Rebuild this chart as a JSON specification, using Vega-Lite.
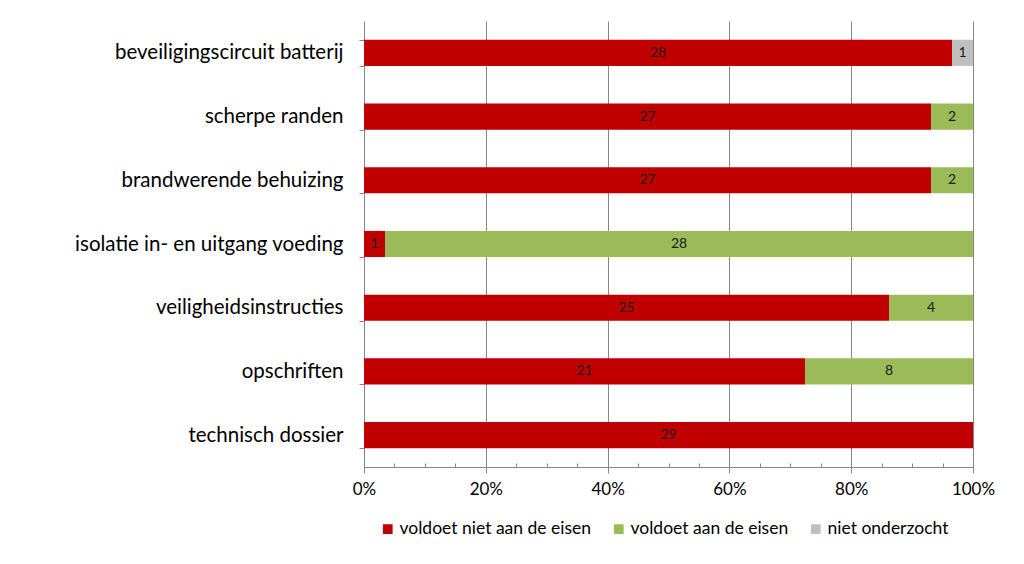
{
  "$schema": "https://vega.github.io/schema/vega-lite/v6.json",
  "width": 609,
  "height": 446,
  "autosize": {"type": "none"},
  "padding": {"left": 364, "top": 21, "right": 51, "bottom": 97},
  "background": "white",
  "config": {"font": "Lato", "view": {"stroke": null}},
  "data": {"values": [
    {"item": "beveiligingscircuit batterij", "status": "voldoet niet aan de eisen", "rank": 1, "n": 28},
    {"item": "beveiligingscircuit batterij", "status": "niet onderzocht", "rank": 3, "n": 1},
    {"item": "scherpe randen", "status": "voldoet niet aan de eisen", "rank": 1, "n": 27},
    {"item": "scherpe randen", "status": "voldoet aan de eisen", "rank": 2, "n": 2},
    {"item": "brandwerende behuizing", "status": "voldoet niet aan de eisen", "rank": 1, "n": 27},
    {"item": "brandwerende behuizing", "status": "voldoet aan de eisen", "rank": 2, "n": 2},
    {"item": "isolatie in- en uitgang voeding", "status": "voldoet niet aan de eisen", "rank": 1, "n": 1},
    {"item": "isolatie in- en uitgang voeding", "status": "voldoet aan de eisen", "rank": 2, "n": 28},
    {"item": "veiligheidsinstructies", "status": "voldoet niet aan de eisen", "rank": 1, "n": 25},
    {"item": "veiligheidsinstructies", "status": "voldoet aan de eisen", "rank": 2, "n": 4},
    {"item": "opschriften", "status": "voldoet niet aan de eisen", "rank": 1, "n": 21},
    {"item": "opschriften", "status": "voldoet aan de eisen", "rank": 2, "n": 8},
    {"item": "technisch dossier", "status": "voldoet niet aan de eisen", "rank": 1, "n": 29}
  ]},
  "encoding": {
    "y": {
      "field": "item", "type": "nominal",
      "sort": ["beveiligingscircuit batterij", "scherpe randen", "brandwerende behuizing", "isolatie in- en uitgang voeding", "veiligheidsinstructies", "opschriften", "technisch dossier"],
      "scale": {"paddingInner": 0.59, "paddingOuter": 0.295},
      "axis": {"title": null, "labelFontSize": 20.5, "labelColor": "#000000", "labelPadding": 16, "tickSize": 5, "tickBand": "extent", "tickColor": "#868686", "domainColor": "#868686", "grid": false, "labelLimit": 400}
    },
    "order": {"field": "rank", "type": "quantitative", "sort": "ascending"}
  },
  "layer": [
    {
      "mark": {"type": "bar"},
      "encoding": {
        "x": {"field": "n", "type": "quantitative", "stack": "normalize",
          "scale": {"domain": [0, 1], "nice": false},
          "axis": {"title": null, "format": "%", "values": [0, 0.2, 0.4, 0.6, 0.8, 1], "grid": true, "gridColor": "#868686", "gridOpacity": 1, "tickSize": 6, "tickColor": "#868686", "domainColor": "#868686", "labelFontSize": 17, "labelColor": "#000000", "labelPadding": 8, "labelFlush": false}},
        "color": {"field": "status", "type": "nominal",
          "scale": {"domain": ["voldoet niet aan de eisen", "voldoet aan de eisen", "niet onderzocht"], "range": ["#C00000", "#9BBB59", "#BFBFBF"]},
          "legend": {"title": null, "orient": "none", "legendX": 15, "legendY": 499, "direction": "horizontal", "symbolType": "square", "symbolSize": 95, "symbolStrokeWidth": 0, "labelFontSize": 17.5, "labelColor": "#000000", "labelLimit": 400, "columnPadding": 18, "labelOffset": 3}}
      }
    },
    {
      "mark": {"type": "text", "fontSize": 14, "color": "#1a1a1a"},
      "encoding": {
        "x": {"field": "n", "type": "quantitative", "stack": "normalize", "bandPosition": 0.5,
          "axis": {"orient": "bottom", "title": null, "values": [0.05, 0.1, 0.15, 0.25, 0.3, 0.35, 0.45, 0.5, 0.55, 0.65, 0.7, 0.75, 0.85, 0.9, 0.95], "labels": false, "domain": false, "grid": false, "tickSize": -4, "tickColor": "#868686"}},
        "text": {"field": "n", "type": "quantitative"}
      }
    }
  ],
  "resolve": {"axis": {"x": "independent"}}
}
